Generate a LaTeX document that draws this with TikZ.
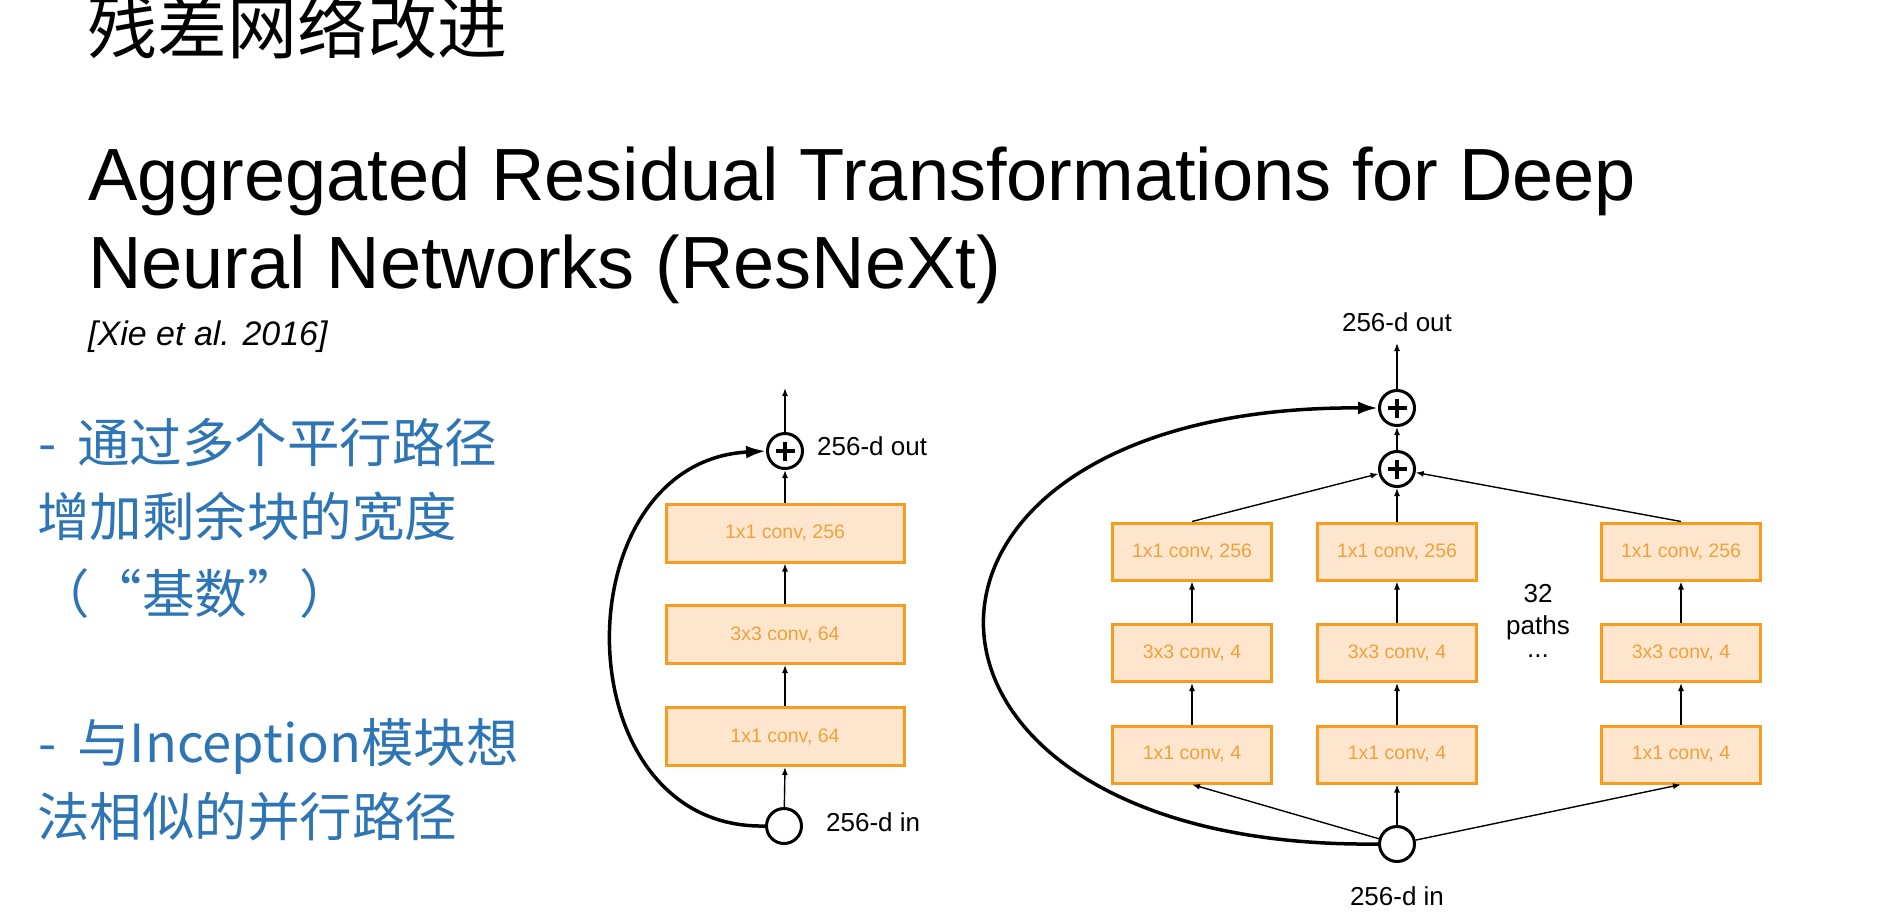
\documentclass[tikz,border=0pt]{standalone}
\usepackage{fontspec}
\setmainfont{Liberation Sans}
\newfontfamily\cjk{Noto Sans CJK SC}
\usetikzlibrary{arrows.meta}
\definecolor{boxfill}{HTML}{FDE6CD}
\definecolor{boxline}{HTML}{F89B1E}
\definecolor{boxtext}{HTML}{EFA23A}
\definecolor{bluetext}{HTML}{2E75B6}
\begin{document}
\begin{tikzpicture}[x=1pt,y=-1pt,
  convbox/.style={draw=boxline, line width=3pt, fill=boxfill, text=boxtext,
    minimum width=238pt, minimum height=58pt, inner sep=0pt,
    font=\fontsize{19.5}{22}\selectfont},
  rbox/.style={convbox, minimum width=159pt, minimum height=57pt},
  sumnode/.style={circle, draw, line width=3pt, minimum size=35pt, inner sep=0pt,
    path picture={
      \draw[line width=3.6pt] ([xshift=-9.5pt]path picture bounding box.center) -- ([xshift=9.5pt]path picture bounding box.center);
      \draw[line width=3.6pt] ([yshift=-9.5pt]path picture bounding box.center) -- ([yshift=9.5pt]path picture bounding box.center);}},
  innode/.style={circle, draw, line width=3pt, minimum size=35pt, inner sep=0pt},
  flowarrow/.style={line width=1.4pt, -{Latex[length=8pt,width=6pt]}},
  skiparrow/.style={line width=3.5pt, -{Latex[length=20pt,width=13pt]}},
  lbl/.style={inner sep=0pt, font=\fontsize{26}{30}\selectfont},
  bluetxt/.style={anchor=base west, inner sep=0pt, text=bluetext, font=\cjk\fontsize{52.5}{60}\selectfont},
]
\useasboundingbox[fill=white] (0,0) rectangle (1890,922);

% titles
\node[anchor=base west, inner sep=0pt, font=\cjk\fontsize{70}{80}\selectfont] (t0) at (87,53) {残差网络改进};
\node[anchor=base west, inner sep=0pt, font=\fontsize{74}{88}\selectfont] (t1) at (88,200) {Aggregated Residual Transformations for Deep};
\node[anchor=base west, inner sep=0pt, font=\fontsize{74}{88}\selectfont] (t2) at (88,288) {Neural Networks (ResNeXt)};
\node[anchor=base west, inner sep=0pt, font=\itshape\fontsize{34}{40}\selectfont] (t3) at (88,345) {[Xie et al. 2016]};

% blue notes
\node[bluetxt] (b1) at (38,462) {-\hspace{9pt} 通过多个平行路径};
\node[bluetxt] (b2) at (37,536) {增加剩余块的宽度};
\node[bluetxt] (b3) at (37,613) {（“基数”）};
\node[bluetxt] (b4) at (38,762) {-\hspace{9pt} 与Inception模块想};
\node[bluetxt] (b5) at (37,836) {法相似的并行路径};

% left diagram
\node[convbox] (L1) at (785,736.5) {1x1 conv, 64};
\node[convbox] (L2) at (785,634.5) {3x3 conv, 64};
\node[convbox] (L3) at (785,533) {1x1 conv, 256};
\node[innode] (Lin) at (784,826) {};
\node[sumnode] (Lsum) at (785,451) {};
\coordinate (Ltop) at (785,388);
\node[lbl, anchor=west] (Lout) at (817,446) {256-d out};
\node[lbl, anchor=west] (Linl) at (826,822) {256-d in};
\draw[flowarrow] (Lin) -- (L1.south);
\draw[flowarrow] (L1) -- (L2);
\draw[flowarrow] (L2) -- (L3);
\draw[flowarrow] (L3) -- (Lsum);
\draw[flowarrow] (Lsum) -- (Ltop);
\draw[skiparrow] (Lin.west) .. controls (561,830) and (560,462) .. (Lsum.west);

% right diagram
\foreach \c/\x in {1/1192, 2/1397, 3/1681} {
  \node[rbox] (A\c) at (\x,754.5) {1x1 conv, 4};
  \node[rbox] (B\c) at (\x,653) {3x3 conv, 4};
  \node[rbox] (C\c) at (\x,551.5) {1x1 conv, 256};
}
\node[innode] (Rin) at (1397,844) {};
\node[sumnode] (Rs1) at (1397,469) {};
\node[sumnode] (Rs2) at (1397,408) {};
\coordinate (Rtop) at (1397,343);
\node[lbl] (Rout) at (1397,322) {256-d out};
\node[lbl] (Rinl) at (1397,896) {256-d in};
\node[lbl, anchor=base] (p1) at (1538,602) {32};
\node[lbl, anchor=base] (p2) at (1538,634) {paths};
\node[lbl, anchor=base] (p3) at (1538,657) {...};
\foreach \c in {1,2,3} {
  \draw[flowarrow] (Rin) -- (A\c.south);
  \draw[flowarrow] (A\c) -- (B\c);
  \draw[flowarrow] (B\c) -- (C\c);
  \draw[flowarrow] (C\c.north) -- (Rs1);
}
\draw[flowarrow] (Rs1) -- (Rs2);
\draw[flowarrow] (Rs2) -- (Rtop);
\draw[skiparrow] (Rin.west) .. controls (860,850) and (850,405) .. (Rs2.west);
\end{tikzpicture}
\end{document}
